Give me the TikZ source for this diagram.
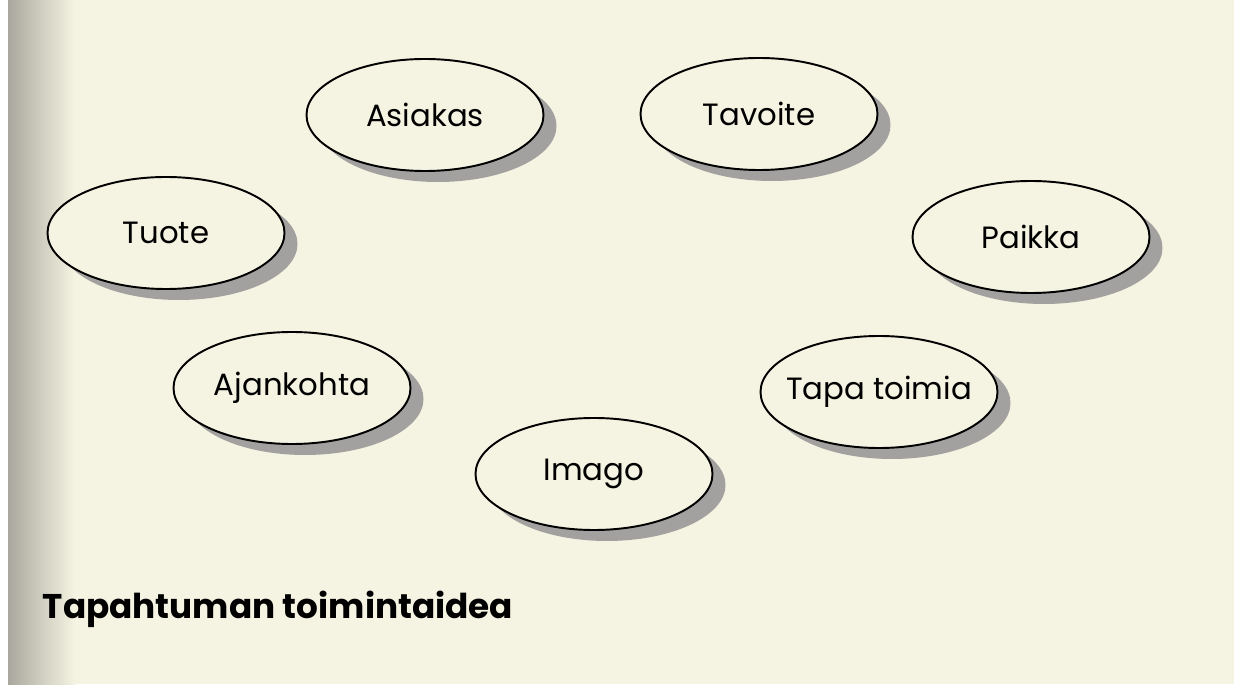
\documentclass[tikz,border=0pt]{standalone}
\usepackage{fontspec}
\setmainfont{Poppins}
\usetikzlibrary{shapes.geometric,shadows}
\definecolor{paper}{RGB}{245,244,226}
\definecolor{paperdark}{RGB}{170,168,158}
\begin{document}
\begin{tikzpicture}[line width=1.1pt,
                    main node/.style={ellipse,draw,fill=paper,minimum width=4.74cm,minimum height=2.24cm,
                    inner xsep=-0.25cm,inner ysep=0pt,
                    font=\fontsize{17.5}{20}\selectfont,
                    drop shadow={shadow xshift=0.26cm,shadow yshift=-0.22cm,fill=gray!80,opacity=0.9}}]

  \fill[paper] (0,0) rectangle (24.68,13.68);
  \shade[left color=paperdark,right color=paper] (0.16,0) rectangle (1.5,13.68);
  \fill[white] (0,0) rectangle (0.16,13.68);
  \useasboundingbox (0,0) rectangle (24.68,13.68);

  \node[main node] (asiakas) at (8.5, 11.38) {Asiakas};
  \node[main node] (tavoite) at (15.18, 11.4) {Tavoite};
  \node[main node] (tuote) at (3.32, 9.02) {Tuote};
  \node[main node] (paikka) at (20.62, 8.94) {Paikka};
  \node[main node] (ajankohta) at (5.84, 5.92) {Ajankohta};
  \node[main node] (tapa) at (17.58, 5.84) {Tapa toimia};
  \node[main node] (imago) at (11.88, 4.2) {Imago};

  \node[anchor=west, font=\bfseries\fontsize{19.5}{22}\selectfont] (otsikko) at (0.72, 1.5) {Tapahtuman toimintaidea};

\end{tikzpicture}
\end{document}
